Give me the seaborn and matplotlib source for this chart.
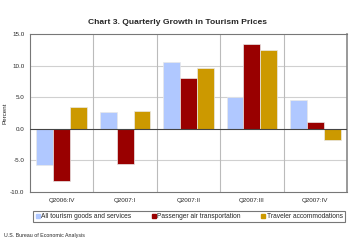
import pandas as pd
import seaborn as sns
import matplotlib.pyplot as plt
from matplotlib.lines import Line2D

quarters = ["Q2006:IV", "Q2007:I", "Q2007:II", "Q2007:III", "Q2007:IV"]
all_tourism = [-5.8, 2.6, 10.5, 5.0, 4.5]
air_transport = [-8.3, -5.6, 8.1, 13.4, 1.1]
accommodations = [3.5, 2.8, 9.6, 12.5, -1.8]

series = ["All tourism goods and services", "Passenger air transportation",
          "Traveler accommodations"]
colors = ["#B0C8FF", "#990000", "#CC9900"]

rows = []
for name, vals in zip(series, [all_tourism, air_transport, accommodations]):
    for q, v in zip(quarters, vals):
        rows.append({"Quarter": q, "Series": name, "Value": v})
df = pd.DataFrame(rows)

sns.set_style("white")
plt.rcParams["font.family"] = ["Liberation Sans", "DejaVu Sans"]

fig = plt.figure(figsize=(3.55, 2.42), dpi=100)
ax = fig.add_axes([30 / 355, 50 / 242, 317 / 355, 158 / 242])

sns.barplot(data=df, x="Quarter", y="Value", hue="Series", order=quarters,
            hue_order=series, palette=colors, width=0.8, saturation=1,
            edgecolor="#e8e8e8", linewidth=0.5, legend=False, ax=ax, zorder=3)

ax.set_ylim(-10, 15)
ax.set_yticks([-10, -5, 0, 5, 10, 15])
ax.set_yticklabels([f"{t:.1f}" for t in ax.get_yticks()])
ax.set_xlim(-0.5, 4.5)
ax.set_xlabel("")
ax.set_ylabel("Percent", fontsize=4.5, labelpad=2)
ax.tick_params(axis="both", labelsize=4.5, length=2, width=0.5, pad=2,
               color="#666666")
ax.tick_params(axis="x", length=0, pad=4)

# gridlines and category separators
for y in [-5, 5, 10]:
    ax.axhline(y, color="#d0d0d0", lw=0.8, zorder=1)
for x in [0.5, 1.5, 2.5, 3.5]:
    ax.axvline(x, color="#bbbbbb", lw=0.8, zorder=1)
ax.axhline(0, color="#444444", lw=0.8, zorder=4)

for side in ["left", "bottom", "top"]:
    ax.spines[side].set_color("#777777")
    ax.spines[side].set_linewidth(0.8)
ax.spines["right"].set_color("#888888")
ax.spines["right"].set_linewidth(1.2)

fig.suptitle("Chart 3. Quarterly Growth in Tourism Prices", y=1 - 19 / 242,
             fontsize=6.1, fontweight="bold")

handles = [Line2D([], [], marker="s", linestyle="", markersize=2.5,
                  markerfacecolor=c, markeredgecolor=c) for c in colors]
leg = fig.legend(handles, series, loc="center", ncol=3, fontsize=4.8,
                 bbox_to_anchor=(30 / 355, 1 - 223 / 242, 318 / 355, 13 / 242),
                 mode="expand", frameon=True, fancybox=False, borderpad=0.3,
                 handletextpad=0.1, handlelength=0.8, columnspacing=1.0)
leg.get_frame().set_edgecolor("#555555")
leg.get_frame().set_linewidth(0.8)

fig.text(4 / 355, 1 - 236 / 242, "U.S. Bureau of Economic Analysis",
         fontsize=3.8, va="center")

fig.savefig("out.png", dpi=100)
